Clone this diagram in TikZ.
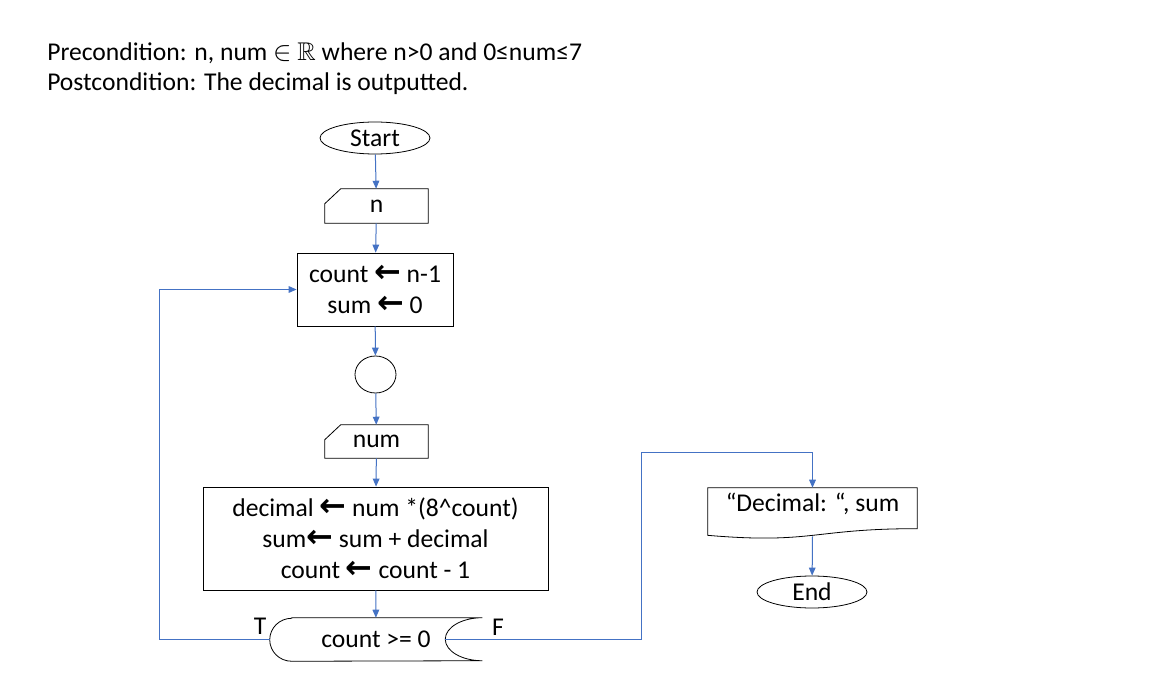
\documentclass[tikz,border=0pt]{standalone}
\usepackage{amsmath,amssymb}
\usepackage{fontspec}
\setmainfont{Carlito}
\newfontfamily\arrowfont[Scale=1.25]{DejaVu Sans}
\usetikzlibrary{arrows.meta,shapes.geometric}
\definecolor{flowblue}{HTML}{4472C4}
\newcommand{\getsarrow}{{\arrowfont\bfseries ←}}

\begin{document}
\begin{tikzpicture}[
  x=0.75pt, y=-0.75pt,
  font=\fontsize{19.2}{23.25}\selectfont,
  term/.style={draw=black, line width=0.6pt, ellipse, inner sep=0pt,
    minimum width=82.5pt, minimum height=24pt},
  procbox/.style={draw=black, line width=0.6pt, align=center, inner sep=0pt},
  plain/.style={inner sep=0pt, align=center},
  outline/.style={draw=black, line width=0.6pt},
  arrow/.style={-{Triangle[length=6pt,width=5pt]}, line width=0.75pt, flowblue}
]
\fill[white] (0,0) rectangle (1172,695);
\useasboundingbox (0,0) rectangle (1172,695);

\node[plain, anchor=base west] (pre) at (47,61)
  {Precondition: n, num $\in$ $\mathbb{R}$ where n>0 and 0≤num≤7};
\node[plain, anchor=base west] (post) at (47,91)
  {Postcondition: The decimal is outputted.};

\node[term] (start) at (375,138) {Start};
\node[plain, minimum width=77.25pt, minimum height=25.5pt] (n) at (376.5,206) {n};
\node[procbox, minimum width=117pt, minimum height=54.75pt] (init) at (375,289.5)
  {count \getsarrow{} n-1\\sum \getsarrow{} 0};
\node[term, minimum width=30.75pt, minimum height=27.75pt] (join) at (375.5,374.5) {};
\node[plain, minimum width=77.25pt, minimum height=24.75pt] (num) at (376.5,441.5) {num};
\node[procbox, minimum width=258.75pt, minimum height=77.25pt] (body) at (375.5,538.5)
  {decimal \getsarrow{} num *(8\^{}count)\\sum\getsarrow{} sum + decimal\\count \getsarrow{} count - 1};
\node[plain, minimum width=159pt, minimum height=32.25pt] (test) at (376,639.5) {count >= 0};
\node[plain] (labT) at (260,626) {T};
\node[plain] (labF) at (498,627) {F};

\node[plain, minimum width=156.75pt, minimum height=24pt] (show) at (812.5,504)
  {“Decimal: “, sum};
\node[term] (end) at (812,592) {End};

% shapes without a ready-made node shape
\foreach \m in {n,num}
  \draw[outline] ([yshift=-11.25pt]\m.north west) -- ([xshift=12pt]\m.north west)
    -- (\m.north east) -- (\m.south east) -- (\m.south west) -- cycle;
\draw[outline] ([xshift=16.5pt]test.north west) -- (test.north east)
  arc[start angle=90, end angle=270, x radius=27.75pt, y radius=16.125pt]
  -- ([xshift=16.5pt]test.south west)
  arc[start angle=270, end angle=90, x radius=16.5pt, y radius=16.125pt] -- cycle;
\draw[outline] (show.north west) -- (show.north east) -- ([yshift=-30.7pt]show.north east)
  .. controls ([yshift=-30.7pt]show.north) and ([yshift=-42.4pt]show.north)
  .. ([yshift=-35.7pt]show.north west) -- cycle;

\foreach \a/\b in {start/n,n/init,init/join,join/num,num/body,body/test}
  \draw[arrow] (\a) -- (\b);

\coordinate (backT) at (159,639.5);
\coordinate (testF) at ([xshift=-27.75pt]test.east);
\coordinate (bendF) at (641,453);
\coordinate (showBot) at ([yshift=-36.5pt]show.north);

\draw[arrow] (test.west) -- (backT) |- (init.west);
\draw[arrow] (testF) -| (bendF) -| (show.north);
\draw[arrow] (showBot) -- (end);
\end{tikzpicture}
\end{document}
